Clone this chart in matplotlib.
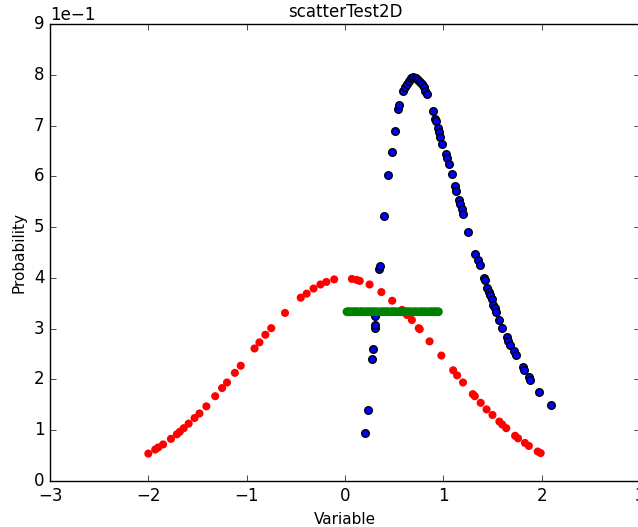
import matplotlib
matplotlib.use("Agg")
import matplotlib.pyplot as plt

# red: normal pdf samples
red_x = [-2.00, -1.93, -1.90, -1.85, -1.77, -1.71, -1.68, -1.64, -1.59, -1.53,
         -1.48, -1.41, -1.32, -1.25, -1.20, -1.12, -1.06, -0.92, -0.87, -0.81,
         -0.75, -0.61, -0.45, -0.39, -0.32, -0.25, -0.19, -0.11,
         0.07, 0.12, 0.15, 0.25, 0.37, 0.48, 0.58, 0.63, 0.68, 0.75, 0.76,
         0.86, 0.98, 1.10, 1.14, 1.20, 1.30, 1.32, 1.38, 1.44, 1.50, 1.57,
         1.60, 1.64, 1.73, 1.76, 1.83, 1.87, 1.96, 1.99]
red_y = [0.054, 0.062, 0.066, 0.072, 0.083, 0.092, 0.097, 0.104, 0.113, 0.124,
         0.133, 0.147, 0.167, 0.183, 0.194, 0.213, 0.227, 0.261, 0.273, 0.288,
         0.301, 0.331, 0.361, 0.369, 0.379, 0.387, 0.392, 0.397,
         0.398, 0.396, 0.394, 0.387, 0.372, 0.355, 0.337, 0.327, 0.317, 0.301, 0.299,
         0.275, 0.247, 0.218, 0.208, 0.194, 0.171, 0.167, 0.154, 0.141, 0.130, 0.117,
         0.111, 0.104, 0.089, 0.084, 0.075, 0.069, 0.058, 0.055]

# blue: skewed distribution samples
blue_x = [0.20, 0.23, 0.27, 0.28, 0.30, 0.305, 0.31, 0.345, 0.355, 0.40,
          0.44, 0.475, 0.51, 0.54, 0.55, 0.59, 0.61, 0.63, 0.65, 0.67,
          0.695, 0.72, 0.74, 0.76, 0.78, 0.80, 0.81, 0.83, 0.89, 0.92,
          0.93, 0.95, 0.96, 0.97, 0.99, 1.03, 1.04, 1.06, 1.09, 1.12,
          1.13, 1.16, 1.17, 1.19, 1.20, 1.25, 1.32, 1.35, 1.37, 1.41,
          1.42, 1.44, 1.46, 1.47, 1.49, 1.51, 1.53, 1.54, 1.57, 1.60,
          1.65, 1.66, 1.68, 1.72, 1.74, 1.81, 1.82, 1.87, 1.88, 1.97, 2.09]
blue_y = [0.094, 0.140, 0.240, 0.259, 0.301, 0.307, 0.324, 0.417, 0.424, 0.521,
          0.603, 0.647, 0.690, 0.732, 0.740, 0.769, 0.775, 0.781, 0.788, 0.793,
          0.795, 0.794, 0.790, 0.786, 0.781, 0.775, 0.768, 0.762, 0.729, 0.713,
          0.708, 0.696, 0.688, 0.678, 0.663, 0.643, 0.636, 0.624, 0.604, 0.580,
          0.571, 0.553, 0.545, 0.536, 0.525, 0.490, 0.448, 0.435, 0.425, 0.399,
          0.396, 0.381, 0.373, 0.366, 0.358, 0.347, 0.340, 0.333, 0.317, 0.302,
          0.283, 0.276, 0.268, 0.256, 0.248, 0.225, 0.219, 0.205, 0.199, 0.176, 0.150]

# green: uniform pdf samples on [0, 1]
green_x = [0.02, 0.04, 0.05, 0.07, 0.09, 0.11, 0.12, 0.15, 0.17, 0.18,
           0.21, 0.23, 0.25, 0.27, 0.29, 0.31, 0.33, 0.36, 0.38, 0.40,
           0.42, 0.44, 0.47, 0.49, 0.51, 0.53, 0.56, 0.58, 0.60, 0.62,
           0.64, 0.66, 0.69, 0.71, 0.73, 0.76, 0.78, 0.80, 0.82, 0.85,
           0.87, 0.89, 0.91, 0.93, 0.95]
green_y = [0.3333, 0.3333, 0.3333, 0.3333, 0.3333, 0.3333, 0.3333, 0.3333, 0.3333, 0.3333,
           0.3333, 0.3333, 0.3333, 0.3333, 0.3333, 0.3333, 0.3333, 0.3333, 0.3333, 0.3333,
           0.3333, 0.3333, 0.3333, 0.3333, 0.3333, 0.3333, 0.3333, 0.3333, 0.3333, 0.3333,
           0.3333, 0.3333, 0.3333, 0.3333, 0.3333, 0.3333, 0.3333, 0.3333, 0.3333, 0.3333,
           0.3333, 0.3333, 0.3333, 0.3333, 0.3333]

plt.style.use("classic")
plt.rcParams["font.family"] = "DejaVu Sans"

fig = plt.figure(figsize=(6.38, 5.27), dpi=100, facecolor="white")
ax = fig.add_axes([50 / 638, 46 / 527, 590 / 638, 457 / 527])

ax.scatter(red_x, red_y, s=34, c="red", edgecolors="none", zorder=2)
ax.scatter(blue_x, blue_y, s=30, c="blue", edgecolors="black", linewidths=1.0, zorder=2)
ax.scatter(green_x, green_y, s=40, c="green", edgecolors="none", zorder=3)

ax.set_xlim(-3, 3)
ax.set_ylim(0, 0.9)
ax.set_xticks([-3, -2, -1, 0, 1, 2, 3])
ax.set_yticks([0, 0.1, 0.2, 0.3, 0.4, 0.5, 0.6, 0.7, 0.8, 0.9])
ax.ticklabel_format(axis="y", style="sci", scilimits=(0, 0))
ax.tick_params(labelsize=12)
ax.set_title("scatterTest2D", fontsize=12)
ax.set_xlabel("Variable", fontsize=11)
ax.set_ylabel("Probability", fontsize=11)

fig.savefig("out.png", dpi=100, facecolor="white")
